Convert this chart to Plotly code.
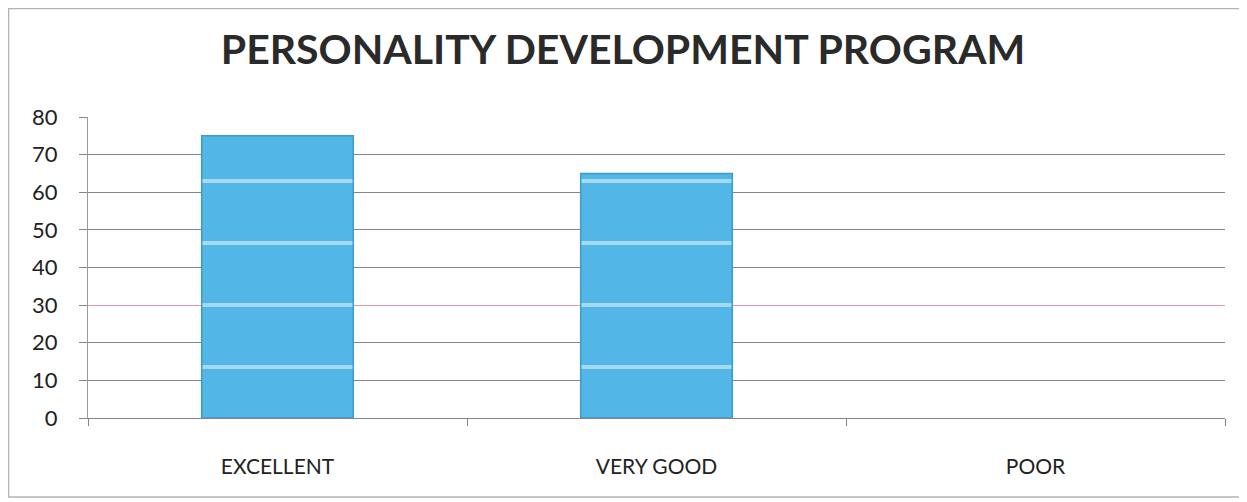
import plotly.graph_objects as go

categories = ["EXCELLENT", "VERY GOOD", "POOR"]
values = [75, 65, 0]
y_ticks = [0, 10, 20, 30, 40, 50, 60, 70, 80]
gray_grid_ticks = [10, 20, 40, 50, 60, 70]
pink_grid_ticks = [30, 80]
title_text = "PERSONALITY DEVELOPMENT PROGRAM"

Y_MAX = 80
AXIS_DOMAIN_TOP = 301 / 330  # visible axis occupies lower part of the plot region

fig = go.Figure()
# invisible traces carrying the value axis and the two gridline colours
for ax in ["y", "y2", "y4"]:
    fig.add_trace(go.Scatter(x=categories, y=values, yaxis=ax, mode="none",
                             showlegend=False, hoverinfo="skip"))
# bars on a full-height hidden axis with identical scale (sets stripe phase)
fig.add_trace(go.Bar(
    x=categories, y=values, yaxis="y3",
    width=0.4,
    marker=dict(
        color="#52b7e6",
        line=dict(color="#3a9ccc", width=[1.5 if v > 0 else 0 for v in values]),
        pattern=dict(shape="-", fgcolor="#f8fdff", size=62, solidity=0.065),
    ),
    hoverinfo="skip",
))

fig.update_layout(
    width=1239, height=494,
    paper_bgcolor="white", plot_bgcolor="rgba(0,0,0,0)",
    margin=dict(l=80, r=22, t=80, b=84),
    showlegend=False,
    font=dict(family="Lato, Open Sans, sans-serif", color="#222"),
    title=dict(text=title_text, x=0.4964, xanchor="center", y=0.915, yanchor="middle",
               font=dict(family="Lato", size=41, color="#2a2a2a", weight="bold")),
    xaxis=dict(
        anchor="y",
        showgrid=False, showline=True, linecolor="#86838c", linewidth=1,
        ticks="outside", tickson="boundaries", ticklen=7, tickcolor="#86838c",
        tickfont=dict(size=21, color="#222"), ticklabelstandoff=30,
    ),
    yaxis=dict(
        domain=[0, AXIS_DOMAIN_TOP],
        range=[0, Y_MAX], tickvals=y_ticks, showgrid=False,
        showline=True, linecolor="#9a9a9a", linewidth=1,
        ticks="outside", ticklen=8, tickcolor="#86838c",
        tickfont=dict(size=22, color="#222"), zeroline=False, ticklabelstandoff=17,
    ),
    yaxis2=dict(
        range=[0, Y_MAX], overlaying="y", tickvals=gray_grid_ticks, showgrid=True,
        gridcolor="#86838c", gridwidth=1, showticklabels=False, zeroline=False,
        side="left",
    ),
    yaxis4=dict(
        range=[0, Y_MAX], overlaying="y", tickvals=pink_grid_ticks, showgrid=True,
        gridcolor="#e09aa6", gridwidth=1, showticklabels=False, zeroline=False,
        side="left",
    ),
    yaxis3=dict(
        domain=[0, 1], range=[0, Y_MAX / AXIS_DOMAIN_TOP], visible=False,
        showgrid=False, zeroline=False, anchor="x",
    ),
    shapes=[dict(type="rect", xref="paper", yref="paper",
                 x0=-0.0699, x1=1.0189, y0=-0.2394, y1=1.2409,
                 line=dict(color="#b4b4b4", width=1.5))],
)
fig.write_html("out.html")
